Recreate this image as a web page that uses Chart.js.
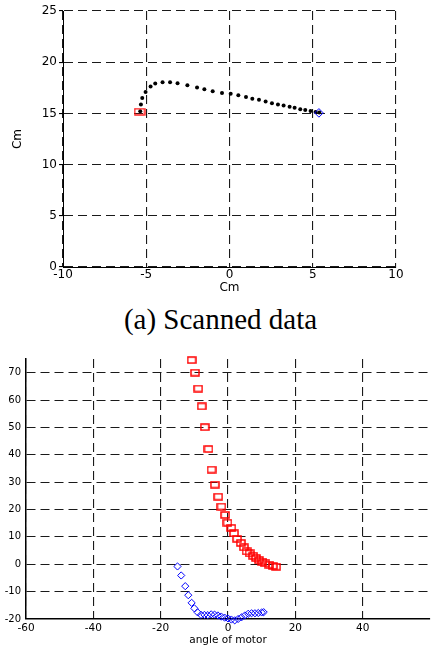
<!DOCTYPE html>
<html>
<head>
<meta charset="utf-8">
<script src="https://cdn.jsdelivr.net/npm/chart.js@4"></script>
<style>
  html, body { margin: 0; padding: 0; background: #fff; }
  #page { position: relative; width: 435px; height: 648px; }
  #scan { position: absolute; left: 0; top: 0; }
  #motor { position: absolute; left: 0; top: 340px; }
  #caption {
    position: absolute; left: 0; top: 305px; width: 441px;
    text-align: center; font-family: "Liberation Serif", serif;
    font-size: 29px; line-height: 29px; color: #000;
  }
</style>
</head>
<body>
<div id="page">
  <canvas id="scan" width="435" height="296"></canvas>
  <div id="caption">(a) Scanned data</div>
  <canvas id="motor" width="435" height="308"></canvas>
</div>
<script>
// (a) scanned points, Cm
var scanX = [-5.36, -5.32, -5.24, -5.04, -4.74, -4.46, -4.02, -3.57, -3.12, -2.53,
             -1.95, -1.51, -1.01, -0.45, 0.07, 0.53, 0.99, 1.37, 1.77, 2.17,
             2.55, 2.91, 3.25, 3.61, 3.91, 4.25, 4.55, 4.87, 5.17, 5.39];
var scanY = [15.2, 15.86, 16.5, 17.09, 17.62, 17.91, 18.04, 18.04, 17.94, 17.75,
             17.52, 17.35, 17.16, 16.99, 16.93, 16.77, 16.6, 16.44, 16.34, 16.15,
             15.98, 15.86, 15.76, 15.66, 15.56, 15.4, 15.33, 15.23, 15.14, 15.08];
var startPoint = [-5.4, 15.17];
var endPoint = [5.37, 15.05];

// (b) angle of motor
var redAngle = [-10.8, -9.8, -8.85, -7.8, -6.9, -5.8, -4.9, -3.9, -2.9, -1.95,
                -0.85, -0.15, 1.0, 1.8, 2.7, 3.8, 4.7, 5.5, 6.4, 7.5,
                8.3, 9.2, 10.2, 11.1, 12.3, 13.3, 14.3];
var redValue = [74.6, 70.0, 64.2, 57.7, 50.1, 42.1, 34.6, 29.1, 24.7, 21.1,
                18.0, 15.2, 13.3, 11.3, 9.3, 7.8, 6.2, 4.7, 4.0, 3.1,
                2.3, 1.5, 1.0, 0.3, -0.2, -0.6, -0.9];
var blueAngle = [-15.0, -13.9, -12.7, -11.8, -10.8, -10.0, -9.0, -8.0, -7.0, -6.0,
                 -5.0, -4.0, -3.0, -2.0, -1.0, 0.0, 1.0, 2.0, 3.0, 4.0,
                 5.0, 6.0, 7.0, 8.0, 9.0, 10.0, 10.6];
var blueValue = [-0.8, -4.1, -8.0, -11.3, -14.1, -16.1, -17.6, -18.5, -18.5, -18.6,
                 -18.3, -18.4, -18.7, -19.1, -19.5, -19.8, -20.2, -20.5, -20.0, -19.4,
                 -18.7, -18.1, -17.9, -17.9, -17.8, -17.6, -17.5];

var xTicksScan = [-10, -5, 0, 5, 10];
var yTicksScan = [0, 5, 10, 15, 20, 25];
var xTicksMotor = [-60, -40, -20, 0, 20, 40];
var yTicksMotor = [-20, -10, 0, 10, 20, 30, 40, 50, 60, 70];

function pairs(xs, ys) {
    return xs.map(function(x, i) { return { x: x, y: ys[i] }; });
}

// small red open rectangle (marker is a bit wider than tall in the picture)
function boxMark(w, h, lw) {
    var c = document.createElement('canvas');
    c.width = w + 2;
    c.height = h + 2;
    var g = c.getContext('2d');
    g.strokeStyle = '#ff0000';
    g.lineWidth = lw;
    g.strokeRect(1, 1, w, h);
    return c;
}

function keepTicks(list) {
    return function(axis) {
        axis.ticks = axis.ticks.filter(function(t) { return list.indexOf(t.value) >= 0; });
    };
}

Chart.defaults.font.family = '"DejaVu Sans", sans-serif';
Chart.defaults.color = '#000';

var dashGrid = {
    color: '#1a1a1a',
    lineWidth: 1.1,
    drawTicks: false
};
// in v4 the grid line dash lives under border.dash
function axisBorder(w) {
    return { display: true, color: '#000', width: w, dash: [9, 5] };
}

new Chart(document.getElementById('scan').getContext('2d'), {
    type: 'scatter',
    data: {
        datasets: [
            {
                data: [{ x: startPoint[0], y: startPoint[1] }],
                pointStyle: boxMark(10, 6, 1.3),
                pointRadius: 5
            },
            {
                data: [{ x: endPoint[0], y: endPoint[1] }],
                pointStyle: 'rectRot',
                pointRadius: 4.3,
                borderColor: '#0000ff',
                borderWidth: 1,
                backgroundColor: 'rgba(0,0,0,0)'
            },
            {
                data: pairs(scanX, scanY),
                pointStyle: 'circle',
                pointRadius: 2,
                borderWidth: 0,
                backgroundColor: '#000'
            }
        ]
    },
    options: {
        responsive: false,
        animation: false,
        layout: { padding: { top: 11, right: 39, left: 0, bottom: 0 } },
        plugins: { legend: { display: false }, tooltip: { enabled: false } },
        scales: {
            x: {
                min: -10, max: 10,
                afterBuildTicks: keepTicks(xTicksScan),
                afterFit: function(s) { s.height = 29; },
                grid: dashGrid,
                border: axisBorder(1),
                ticks: { stepSize: 5, padding: 1, font: { size: 12 } },
                title: { display: true, text: 'Cm', font: { size: 12 }, padding: { top: 0, bottom: 1 } }
            },
            y: {
                min: 0, max: 25,
                afterBuildTicks: keepTicks(yTicksScan),
                afterFit: function(s) { s.width = 63; },
                grid: Object.assign({}, dashGrid, { drawTicks: true, tickLength: 4, tickColor: '#000', tickBorderDash: [] }),
                border: axisBorder(1),
                ticks: { stepSize: 5, padding: 2, font: { size: 12 } },
                title: { display: true, text: 'Cm', font: { size: 12 }, padding: { top: 11, bottom: 0 } }
            }
        }
    }
});

new Chart(document.getElementById('motor').getContext('2d'), {
    type: 'scatter',
    data: {
        datasets: [
            {
                data: pairs(redAngle, redValue),
                pointStyle: boxMark(8, 6, 1.5),
                pointRadius: 4,
                clip: false
            },
            {
                data: pairs(blueAngle, blueValue),
                pointStyle: 'rectRot',
                pointRadius: 3.6,
                borderColor: '#0000ff',
                borderWidth: 1,
                backgroundColor: 'rgba(0,0,0,0)',
                clip: false
            }
        ]
    },
    options: {
        responsive: false,
        animation: false,
        layout: { padding: { top: 19, right: 2, left: 0, bottom: 0 } },
        plugins: { legend: { display: false }, tooltip: { enabled: false } },
        scales: {
            x: {
                min: -60, max: 60,
                afterBuildTicks: keepTicks(xTicksMotor),
                afterFit: function(s) { s.height = 29; },
                grid: dashGrid,
                border: axisBorder(1.5),
                ticks: { stepSize: 20, padding: 3, font: { size: 10.5 } },
                title: { display: true, text: 'angle of motor', font: { size: 10.5 }, padding: { top: 0, bottom: 1 } }
            },
            y: {
                min: -20, max: 75,
                afterBuildTicks: keepTicks(yTicksMotor),
                afterFit: function(s) { s.width = 26; },
                grid: dashGrid,
                border: axisBorder(1.5),
                ticks: { stepSize: 10, padding: 5, font: { size: 10 } }
            }
        }
    }
});
</script>
</body>
</html>
